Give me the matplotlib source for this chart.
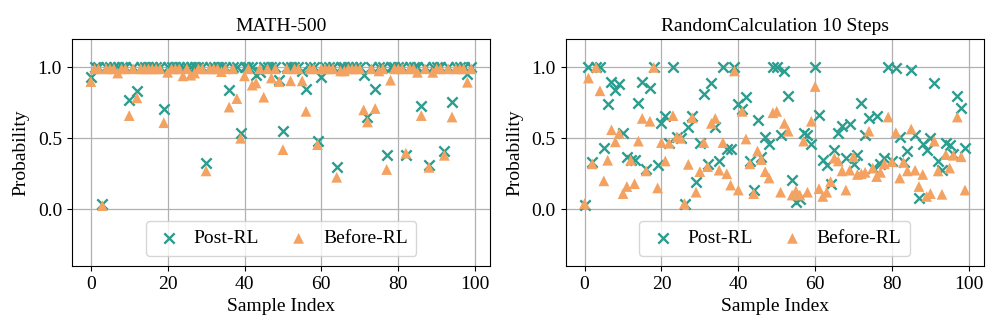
import numpy as np
import matplotlib
matplotlib.use('Agg')
from matplotlib import pyplot as plt

plt.rcParams['font.family'] = ['Liberation Serif', 'DejaVu Serif']
plt.rcParams['font.size'] = 14

# MATH-500 probabilities per sample
math_post = [0.93, 1.0, 1.0, 0.04, 1.0, 1.0, 1.0, 1.0, 1.0, 1.0,
             0.77, 1.0, 0.83, 1.0, 1.0, 1.0, 1.0, 1.0, 1.0, 0.71,
             1.0, 1.0, 1.0, 1.0, 1.0, 1.0, 1.0, 1.0, 1.0, 1.0,
             0.325, 1.0, 1.0, 1.0, 1.0, 1.0, 0.84, 1.0, 1.0, 0.535,
             1.0, 1.0, 1.0, 0.945, 0.97, 1.0, 1.0, 1.0, 1.0, 0.91,
             0.55, 1.0, 1.0, 1.0, 1.0, 0.975, 0.845, 1.0, 1.0, 0.48,
             0.93, 1.0, 1.0, 1.0, 0.30, 1.0, 1.0, 1.0, 1.0, 1.0,
             1.0, 0.945, 0.65, 1.0, 0.85, 1.0, 1.0, 0.38, 1.0, 1.0,
             1.0, 1.0, 0.38, 1.0, 1.0, 1.0, 0.73, 1.0, 0.31, 1.0,
             1.0, 1.0, 0.41, 1.0, 0.755, 1.0, 1.0, 1.0, 0.955, 1.0]
math_before = [0.90, 0.99, 0.99, 0.025, 0.99, 0.99, 0.99, 0.96, 0.99, 0.99,
               0.66, 0.99, 0.785, 0.99, 0.99, 0.99, 0.99, 0.99, 0.99, 0.61,
               0.965, 0.99, 0.99, 0.99, 0.94, 0.99, 0.945, 0.96, 0.99, 0.99,
               0.27, 0.99, 0.99, 0.99, 0.97, 0.99, 0.72, 0.99, 0.78, 0.50,
               0.94, 0.99, 0.875, 0.89, 0.99, 0.79, 0.99, 0.925, 0.99, 0.90,
               0.42, 0.99, 0.905, 0.99, 0.99, 0.905, 0.69, 0.99, 0.99, 0.455,
               0.99, 0.99, 0.99, 0.99, 0.225, 0.975, 0.975, 0.99, 0.99, 0.99,
               0.99, 0.70, 0.615, 0.99, 0.71, 0.975, 0.99, 0.28, 0.91, 0.99,
               0.99, 0.99, 0.395, 0.99, 0.99, 0.965, 0.66, 0.99, 0.295, 0.965,
               0.99, 0.99, 0.38, 0.99, 0.65, 0.99, 0.99, 0.99, 0.895, 0.99]

# RandomCalculation 10 Steps probabilities per sample
rc_post = [0.03, 1.0, 0.335, 1.0, 1.0, 0.43, 0.74, 0.90, 0.84, 0.88,
           0.54, 0.37, 0.35, 0.35, 0.75, 0.90, 0.28, 0.855, 1.0, 0.31,
           0.61, 0.66, 0.47, 1.0, 0.51, 0.50, 0.04, 0.58, 0.66, 0.19,
           0.47, 0.81, 0.316, 0.89, 0.58, 0.34, 1.0, 0.425, 0.425, 1.0,
           0.74, 0.71, 0.79, 0.34, 0.135, 0.63, 0.37, 0.51, 0.46, 1.0,
           1.0, 0.52, 0.975, 0.795, 0.205, 0.05, 0.075, 0.535, 0.52, 0.46,
           1.0, 0.665, 0.35, 0.31, 0.18, 0.42, 0.535, 0.59, 0.36, 0.60,
           0.32, 0.38, 0.75, 0.52, 0.64, 0.29, 0.66, 0.32, 0.36, 1.0,
           0.34, 0.995, 0.51, 0.33, 0.41, 0.985, 0.52, 0.08, 0.46, 0.42,
           0.50, 0.89, 0.34, 0.275, 0.47, 0.45, 0.39, 0.795, 0.717, 0.435]
rc_before = [0.04, 0.925, 0.32, 1.0, 0.835, 0.20, 0.345, 0.56, 0.475, 0.535,
             0.11, 0.16, 0.345, 0.18, 0.48, 0.64, 0.27, 0.62, 1.0, 0.15,
             0.47, 0.34, 0.465, 0.66, 0.51, 0.50, 0.04, 0.316, 0.645, 0.12,
             0.265, 0.47, 0.30, 0.605, 0.64, 0.275, 0.47, 0.25, 0.17, 0.975,
             0.135, 0.69, 0.495, 0.32, 0.11, 0.41, 0.35, 0.265, 0.22, 0.68,
             0.69, 0.12, 0.605, 0.55, 0.10, 0.13, 0.10, 0.48, 0.12, 0.62,
             0.865, 0.145, 0.09, 0.12, 0.195, 0.36, 0.34, 0.27, 0.135, 0.275,
             0.37, 0.245, 0.25, 0.26, 0.55, 0.29, 0.23, 0.26, 0.32, 0.65,
             0.335, 0.54, 0.22, 0.33, 0.27, 0.565, 0.275, 0.16, 0.245, 0.09,
             0.11, 0.48, 0.27, 0.105, 0.385, 0.29, 0.38, 0.65, 0.37, 0.135]

titles = ['MATH-500', 'RandomCalculation 10 Steps']
post_color = '#2a9d8f'
before_color = '#f4a261'

fig, axs = plt.subplots(1, 2, figsize=(9.97, 3.32), dpi=100)
fig.subplots_adjust(left=0.072, right=0.987, top=0.8825, bottom=0.199, wspace=0.18)

for ax, title, post, before in zip(axs, titles, [math_post, rc_post], [math_before, rc_before]):
    idx = np.arange(len(post))
    ax.scatter(idx, post, marker='x', s=55, color=post_color, linewidths=1.7, label='Post-RL', zorder=3)
    ax.scatter(idx, before, marker='^', s=60, color=before_color, edgecolors='none', label='Before-RL', zorder=3)
    ax.set_title(title, fontsize=14)
    ax.set_xlabel('Sample Index', fontsize=14)
    ax.set_ylabel('Probability', fontsize=14, labelpad=6)
    ax.set_ylim(-0.4, 1.2)
    ax.set_yticks([0.0, 0.5, 1.0])
    ax.set_xticks([0, 20, 40, 60, 80, 100])
    ax.tick_params(labelsize=14)
    ax.grid(True, color='#b0b0b0', linewidth=0.9, zorder=0)
    ax.set_axisbelow(True)
    ax.legend(loc='lower center', ncol=2, scatterpoints=1, columnspacing=1.3,
              handlelength=1.5, handletextpad=0.5, fontsize=14, borderpad=0.45)

plt.savefig('out.png', dpi=100)
